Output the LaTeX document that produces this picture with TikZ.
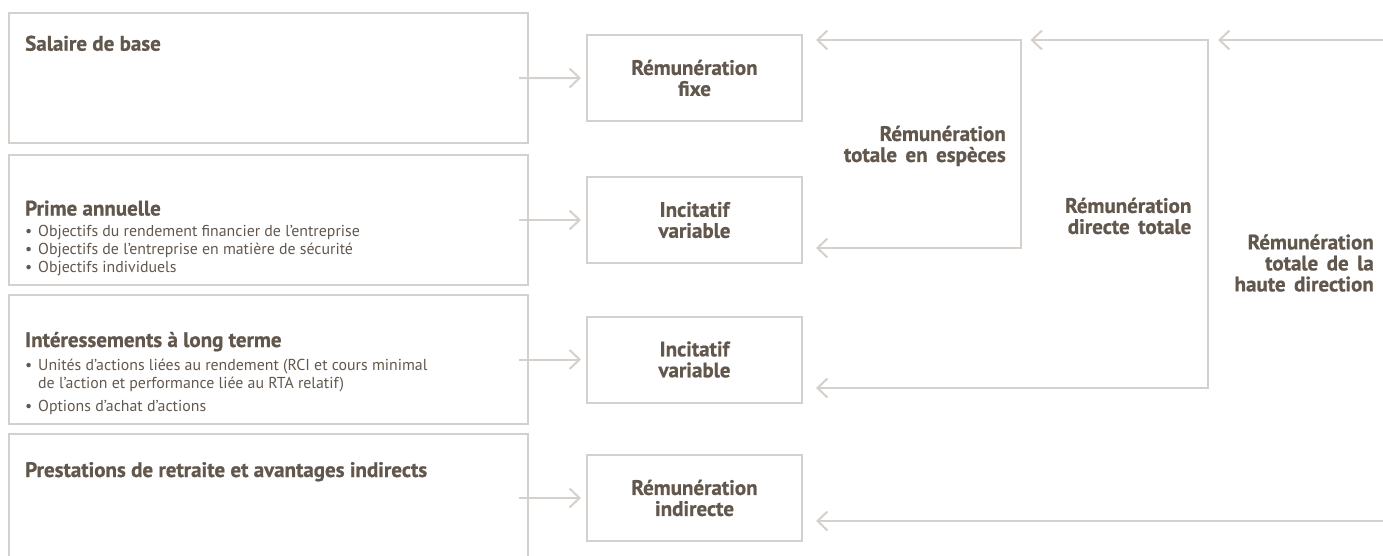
\documentclass[tikz,border=0pt]{standalone}
\usepackage{fontspec}
\setmainfont{PT Sans}[BoldFeatures={FakeBold=0.8}]
\newfontfamily\rlabfont{PT Sans}[WordSpace=1.6, BoldFeatures={FakeBold=0.8}]
\usetikzlibrary{arrows.meta}
\definecolor{txt}{HTML}{62574D}
\definecolor{ln}{HTML}{D5D0CB}
\tikzset{
  bigbox/.style={draw=ln, line width=2pt, anchor=north west, inner sep=0pt},
  smallbox/.style={draw=ln, line width=2pt, minimum width=215pt, minimum height=86pt, anchor=north west, inner sep=0pt},
  conn/.style={draw=ln, line width=2pt},
  barb/.tip={Straight Barb[length=10pt,width=19pt,line width=2pt]},
  tip/.style={-barb},
  tips/.style={barb-barb},
  head/.style={text=txt, font=\bfseries\fontsize{21}{21}\selectfont, inner sep=0pt},
  body/.style={text=txt, font=\fontsize{15.85}{18.5}\selectfont, inner sep=0pt, anchor=base west},
  lab/.style={text=txt, font=\bfseries\fontsize{21}{21}\selectfont, inner sep=0pt, align=center},
  rlab/.style={text=txt, font=\rlabfont\bfseries\fontsize{21}{21}\selectfont, inner sep=0pt, align=right},
}
\begin{document}
\begin{tikzpicture}[x=1pt,y=-1pt]
\useasboundingbox (0,0) rectangle (1383,556);
\clip (0,0) rectangle (1383,556);
% left boxes
\node[bigbox, minimum width=519pt, minimum height=129.5pt] (b1) at (8,12.3) {};
\node[bigbox, minimum width=519pt, minimum height=129.5pt] (b2) at (8,154) {};
\node[bigbox, minimum width=519pt, minimum height=129.5pt] (b3) at (8,293.5) {};
\node[bigbox, minimum width=519pt, minimum height=129.5pt] (b4) at (8,432.7) {};
% left texts
\node[head, anchor=base west] (t1) at (25,50.7) {Salaire de base};
\node[head, anchor=base west] (t2) at (25,215.5) {Prime annuelle};
\node[body] (t2a) at (25,236) {•};
\node[body] (t2at) at (38,236) {Objectifs du rendement financier de l’entreprise};
\node[body] (t2b) at (25,254) {•};
\node[body] (t2bt) at (38,254) {Objectifs de l’entreprise en matière de sécurité};
\node[body] (t2c) at (25,272) {•};
\node[body] (t2ct) at (38,272) {Objectifs individuels};
\node[head, anchor=base west] (t3) at (25,347) {Intéressements à long terme};
\node[body] (t3a) at (25,370) {•};
\node[body] (t3at) at (38,370) {Unités d’actions liées au rendement (RCI et cours minimal};
\node[body] (t3at2) at (38,388.5) {de l’action et performance liée au RTA relatif)};
\node[body] (t3b) at (25,411) {•};
\node[body] (t3bt) at (38,411) {Options d’achat d’actions};
\node[head, anchor=base west] (t4) at (25,477) {Prestations de retraite et avantages indirects};
% small boxes
\node[smallbox] (fixe) at (586,34) {};
\node[smallbox] (inc1) at (586,176) {};
\node[smallbox] (inc2) at (586,315.5) {};
\node[smallbox] (ind) at (586,454) {};
\node[lab] (lfixe) at (fixe.center) {Rémunération\\fixe};
\node[lab] (linc1) at (inc1.center) {Incitatif\\variable};
\node[lab] (linc2) at (inc2.center) {Incitatif\\variable};
\node[lab] (lind) at (ind.center) {Rémunération\\indirecte};
% left arrows
\draw[conn,tip] ([xshift=-10pt]b1.east) -- ([xshift=-5pt]fixe.west);
\draw[conn,tip] ([xshift=-10pt]b2.east |- inc1.west) -- ([xshift=-5pt]inc1.west);
\draw[conn,tip] ([xshift=-10pt]b3.east |- inc2.west) -- ([xshift=-5pt]inc2.west);
\draw[conn,tip] ([xshift=-10pt]b4.east |- ind.west) -- ([xshift=-5pt]ind.west);
% right brackets
\coordinate (k1t) at (1020.5,40);
\coordinate (k1b) at (1020.5,248);
\coordinate (k2t) at (1208,40);
\coordinate (k2b) at (1208,388);
\coordinate (k3t) at (1383,40);
\coordinate (k3b) at (1383,521);
\draw[conn,tips] ([xshift=13pt]fixe.east |- k1t) -- (k1t) -- (k1b) -- ([xshift=13pt]inc1.east |- k1b);
\draw[conn,tips] ([xshift=10pt]k1t) -- (k2t) -- (k2b) -- ([xshift=13pt]inc2.east |- k2b);
\draw[conn,tip] (k3t) -- ([xshift=10pt]k2t);
\draw[conn,tip] (k3b) -- ([xshift=13pt]ind.east |- k3b);
% right labels
\node[rlab, anchor=east] (l1) at (1006,146) {Rémunération\\totale en espèces};
\node[rlab, anchor=east] (l2) at (1191.5,216) {Rémunération\\directe totale};
\node[rlab, anchor=east] (l3) at (1374,263) {Rémunération\\totale de la\\haute direction};
\end{tikzpicture}
\end{document}
